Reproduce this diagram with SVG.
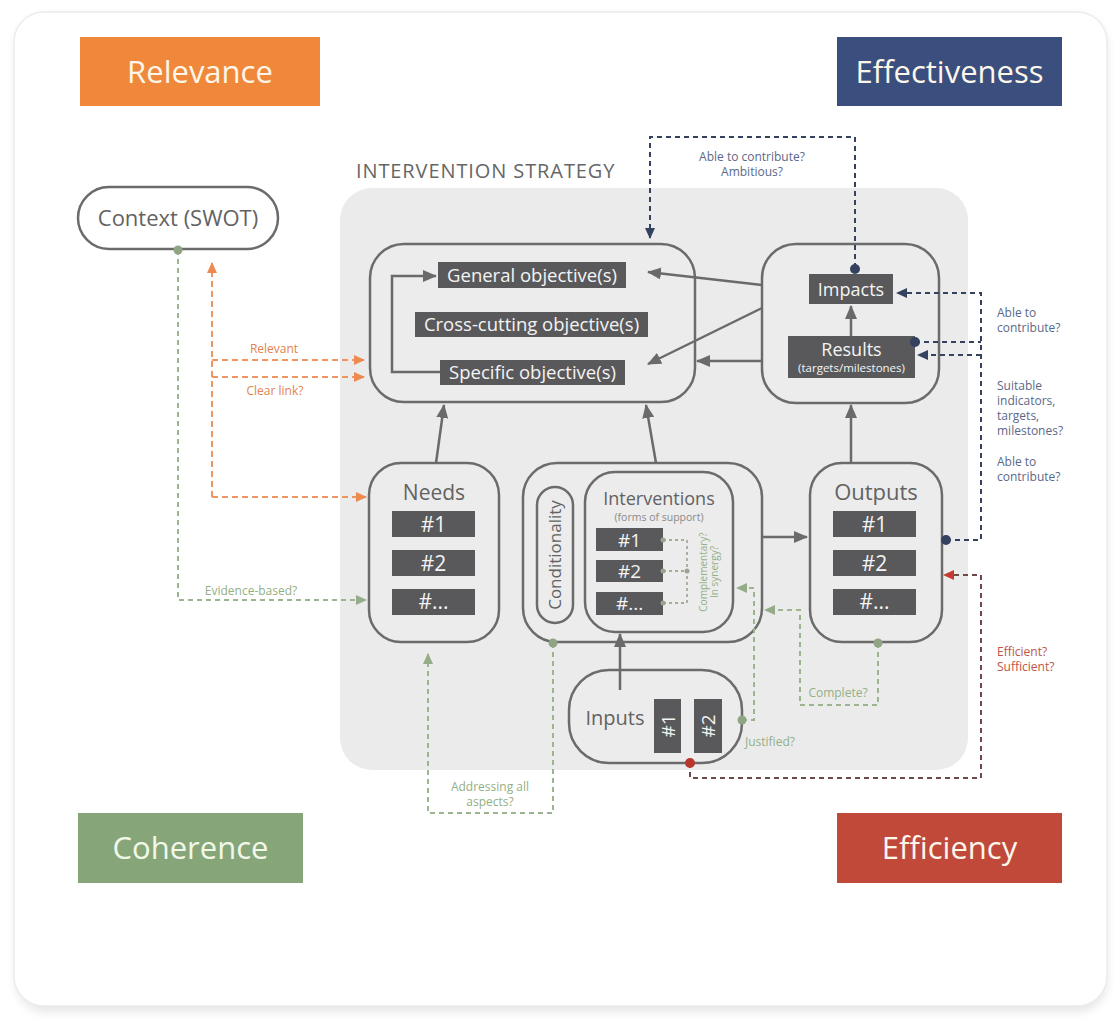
<svg xmlns="http://www.w3.org/2000/svg" width="1120" height="1035" viewBox="0 0 1120 1035">
<defs>
<style>
text{font-family:"Open Sans","Noto Sans","DejaVu Sans",sans-serif}
.cat{font-size:31px;fill:#fdf6ea;text-anchor:middle}
.box{fill:#ececec;stroke:#6b6b6b;stroke-width:2.5}
.lbl{fill:#59595b}
.lt{fill:#f4f4f4;text-anchor:middle}
.ttl{fill:#626262;text-anchor:middle}
.solid{fill:none;stroke:#6a6a6a;stroke-width:2.5}
.nv{fill:none;stroke:#34425f;stroke-width:2;stroke-dasharray:5 4}
.gr{fill:none;stroke:#9cb58f;stroke-width:2;stroke-dasharray:5 4}
.gc{fill:none;stroke:#a3ad9a;stroke-width:1.8;stroke-dasharray:3 3}
.or{fill:none;stroke:#ee9561;stroke-width:2;stroke-dasharray:6 4}
.rd{fill:none;stroke:#6d4a47;stroke-width:2;stroke-dasharray:5 4}
.sm{font-size:12px}
.nvt{fill:#5b6888}
.grt{fill:#93b085}
.ort{fill:#e2834c}
.rdt{fill:#bd5446}
</style>
<marker id="aS" markerUnits="userSpaceOnUse" markerWidth="14" markerHeight="12" refX="13" refY="6" orient="auto"><path d="M0,0 L14,6 L0,12 z" fill="#6a6a6a"/></marker>
<marker id="aN" markerUnits="userSpaceOnUse" markerWidth="11" markerHeight="10" refX="10" refY="5" orient="auto"><path d="M0,0 L11,5 L0,10 z" fill="#34425f"/></marker>
<marker id="aG" markerUnits="userSpaceOnUse" markerWidth="11" markerHeight="10" refX="10" refY="5" orient="auto"><path d="M0,0 L11,5 L0,10 z" fill="#94ad88"/></marker>
<marker id="aO" markerUnits="userSpaceOnUse" markerWidth="11" markerHeight="10" refX="10" refY="5" orient="auto"><path d="M0,0 L11,5 L0,10 z" fill="#ee8a4e"/></marker>
<marker id="aR" markerUnits="userSpaceOnUse" markerWidth="11" markerHeight="10" refX="10" refY="5" orient="auto"><path d="M0,0 L11,5 L0,10 z" fill="#c53a2e"/></marker>
<filter id="sh" x="-5%" y="-5%" width="110%" height="110%"><feGaussianBlur stdDeviation="5"/></filter>
</defs>

<!-- card -->
<rect x="16" y="16" width="1091" height="996" rx="30" fill="#e6e6e6" filter="url(#sh)"/>
<rect x="14" y="12" width="1093" height="994" rx="30" fill="#ffffff" stroke="#ececec" stroke-width="1.5"/>

<!-- strategy panel -->
<g id="strategy">
<rect x="340" y="188" width="628" height="582" rx="32" fill="#ebebeb"/>
<text x="356" y="178" font-size="20" fill="#666" letter-spacing="0.9">INTERVENTION STRATEGY</text>
</g>

<!-- category boxes -->
<g id="relevance"><rect x="80" y="37" width="240" height="69" fill="#f0883c"/><text class="cat" x="200" y="83">Relevance</text></g>
<g id="effectiveness"><rect x="837" y="37" width="225" height="69" fill="#3a4f7e"/><text class="cat" x="949.5" y="83">Effectiveness</text></g>
<g id="coherence"><rect x="78" y="813" width="225" height="70" fill="#86a67a"/><text class="cat" x="190.5" y="859" style="fill:#f2f8e8">Coherence</text></g>
<g id="efficiency"><rect x="837" y="813" width="225" height="70" fill="#c0493a"/><text class="cat" x="949.5" y="859">Efficiency</text></g>

<!-- context -->
<g id="context">
<rect x="78" y="187" width="200" height="62" rx="31" fill="#fff" stroke="#6b6b6b" stroke-width="2.5"/>
<text class="ttl" x="178" y="226" font-size="22">Context (SWOT)</text>
</g>

<!-- objectives -->
<g id="objectives">
<rect class="box" x="370" y="244" width="325" height="158" rx="34"/>
<rect class="lbl" x="438" y="262" width="188" height="26"/>
<text class="lt" x="532" y="282" font-size="18.5">General objective(s)</text>
<rect class="lbl" x="415" y="312" width="233" height="25"/>
<text class="lt" x="531.5" y="331" font-size="18.5">Cross-cutting objective(s)</text>
<rect class="lbl" x="440" y="360" width="185" height="25"/>
<text class="lt" x="532.5" y="379" font-size="18.5">Specific objective(s)</text>
</g>

<!-- impacts/results -->
<g id="impacts-results">
<rect class="box" x="762" y="244" width="177" height="159" rx="34"/>
<rect class="lbl" x="809" y="274" width="84" height="30"/>
<text class="lt" x="851" y="296" font-size="18">Impacts</text>
<rect class="lbl" x="788" y="336" width="127" height="42"/>
<text class="lt" x="851.5" y="356" font-size="18">Results</text>
<text class="lt" x="851.5" y="372" font-size="11.5">(targets/milestones)</text>
</g>

<!-- needs -->
<g id="needs">
<rect class="box" x="369" y="463" width="130" height="179" rx="32"/>
<text class="ttl" x="434" y="500" font-size="21">Needs</text>
<rect class="lbl" x="392" y="511" width="83" height="26"/><text class="lt" x="433.5" y="532" font-size="21">#1</text>
<rect class="lbl" x="392" y="550" width="83" height="26"/><text class="lt" x="433.5" y="571" font-size="21">#2</text>
<rect class="lbl" x="392" y="589" width="83" height="26"/><text class="lt" x="433.5" y="609" font-size="21">#...</text>
</g>

<!-- interventions -->
<g id="interventions">
<rect class="box" x="523" y="463" width="239" height="179" rx="34"/>
<rect x="537" y="487" width="36" height="136" rx="18" fill="#ececec" stroke="#6b6b6b" stroke-width="2.5"/>
<text class="ttl" transform="translate(561,555) rotate(-90)" font-size="17">Conditionality</text>
<rect class="box" x="585" y="472" width="148" height="160" rx="30"/>
<text class="ttl" x="659" y="505" font-size="18">Interventions</text>
<text x="659" y="521" font-size="10.5" fill="#8a8a8a" text-anchor="middle">(forms of support)</text>
<rect class="lbl" x="596" y="528" width="67" height="23"/><text class="lt" x="629.5" y="547" font-size="19">#1</text>
<rect class="lbl" x="596" y="560" width="67" height="22"/><text class="lt" x="629.5" y="578" font-size="19">#2</text>
<rect class="lbl" x="596" y="592" width="67" height="23"/><text class="lt" x="629.5" y="610" font-size="19">#...</text>
<text class="grt" transform="translate(707,572) rotate(-90)" font-size="10" text-anchor="middle">Complementary?</text>
<text class="grt" transform="translate(718,572) rotate(-90)" font-size="10" text-anchor="middle">In synergy?</text>
</g>

<!-- outputs -->
<g id="outputs">
<rect class="box" x="810" y="463" width="132" height="179" rx="32"/>
<text class="ttl" x="876" y="500" font-size="22">Outputs</text>
<rect class="lbl" x="833" y="511" width="83" height="26"/><text class="lt" x="874.5" y="532" font-size="21">#1</text>
<rect class="lbl" x="833" y="550" width="83" height="26"/><text class="lt" x="874.5" y="571" font-size="21">#2</text>
<rect class="lbl" x="833" y="589" width="83" height="26"/><text class="lt" x="874.5" y="609" font-size="21">#...</text>
</g>

<!-- inputs -->
<g id="inputs">
<rect class="box" x="569" y="670" width="173" height="93" rx="40"/>
<text class="ttl" x="615" y="725" font-size="20">Inputs</text>
<rect class="lbl" x="654" y="699" width="27" height="54"/><text class="lt" transform="translate(675,726) rotate(-90)" font-size="19">#1</text>
<rect class="lbl" x="694" y="699" width="28" height="54"/><text class="lt" transform="translate(715,726) rotate(-90)" font-size="19">#2</text>
</g>

<!-- connectors -->
<g id="connectors">
<path class="solid" d="M436,463 L444,405" marker-end="url(#aS)"/>
<path class="solid" d="M656,463 L646,405" marker-end="url(#aS)"/>
<path class="solid" d="M851,463 V405" marker-end="url(#aS)"/>
<path class="solid" d="M851,336 V306" marker-end="url(#aS)"/>
<path class="solid" d="M762,285 L648,272" marker-end="url(#aS)"/>
<path class="solid" d="M762,308 L648,364" marker-end="url(#aS)"/>
<path class="solid" d="M762,361 H697" marker-end="url(#aS)"/>
<path class="solid" d="M440,372 H392 V276 H436" marker-end="url(#aS)"/>
<path class="solid" d="M762,537 H807" marker-end="url(#aS)"/>
<path class="solid" d="M620,690 V634" marker-end="url(#aS)"/>

<!-- effectiveness -->
<path class="nv" d="M855,268 V137 H650 V238" marker-end="url(#aN)"/>
<path class="nv" d="M946,540 H981 V293 H897" marker-end="url(#aN)"/>
<path class="nv" d="M915,342 H981"/>
<path class="nv" d="M981,355 H918" marker-end="url(#aN)"/>
<circle cx="855" cy="269" r="5" fill="#34425f"/>
<circle cx="915" cy="342" r="5" fill="#34425f"/>
<circle cx="946" cy="540" r="5" fill="#34425f"/>

<!-- efficiency -->
<path class="rd" d="M690,763 V778 H981 V575 H944" marker-end="url(#aR)"/>
<circle cx="690" cy="763" r="5" fill="#b8372c"/>

<!-- relevance -->
<path class="or" d="M212,497 V263" marker-end="url(#aO)"/>
<path class="or" d="M212,360 H364" marker-end="url(#aO)"/>
<path class="or" d="M212,377 H364" marker-end="url(#aO)"/>
<path class="or" d="M212,497 H366" marker-end="url(#aO)"/>

<!-- coherence -->
<path class="gr" d="M178,250 V600 H366" marker-end="url(#aG)"/>
<path class="gr" d="M553,643 V813 H428 V654" marker-end="url(#aG)"/>
<path class="gr" d="M878,643 V705 H800 V610 H765" marker-end="url(#aG)"/>
<path class="gr" d="M742,720 H754 V588 H737" marker-end="url(#aG)"/>
<path class="gc" d="M663,540 H687 M663,571 H687 M663,603 H687 M687,540 V603"/>
<circle cx="178" cy="250" r="4.5" fill="#8fa583"/>
<circle cx="553" cy="643" r="4.5" fill="#8fa583"/>
<circle cx="878" cy="643" r="4.5" fill="#8fa583"/>
<circle cx="742" cy="720" r="4.5" fill="#8fa583"/>
<circle cx="663" cy="540" r="2.5" fill="#9aa391"/>
<circle cx="663" cy="571" r="2.5" fill="#9aa391"/>
<circle cx="663" cy="603" r="2.5" fill="#9aa391"/>
<circle cx="687" cy="571" r="2.5" fill="#9aa391"/>

<!-- labels -->
<text class="sm nvt" x="752" y="161" text-anchor="middle">Able to contribute?</text>
<text class="sm nvt" x="752" y="176" text-anchor="middle">Ambitious?</text>
<text class="sm nvt" x="997" y="317">Able to</text>
<text class="sm nvt" x="997" y="332">contribute?</text>
<text class="sm nvt" x="997" y="390">Suitable</text>
<text class="sm nvt" x="997" y="405">indicators,</text>
<text class="sm nvt" x="997" y="420">targets,</text>
<text class="sm nvt" x="997" y="435">milestones?</text>
<text class="sm nvt" x="997" y="466">Able to</text>
<text class="sm nvt" x="997" y="481">contribute?</text>
<text class="sm rdt" x="997" y="656">Efficient?</text>
<text class="sm rdt" x="997" y="671">Sufficient?</text>
<text class="sm ort" x="274" y="353" text-anchor="middle">Relevant</text>
<text class="sm ort" x="275" y="395" text-anchor="middle">Clear link?</text>
<text class="sm grt" x="251" y="595" text-anchor="middle">Evidence-based?</text>
<text class="sm grt" x="490" y="791" text-anchor="middle">Addressing all</text>
<text class="sm grt" x="490" y="806" text-anchor="middle">aspects?</text>
<text class="sm grt" x="838" y="697" text-anchor="middle">Complete?</text>
<text class="sm grt" x="745" y="746">Justified?</text>
</g>
</svg>
